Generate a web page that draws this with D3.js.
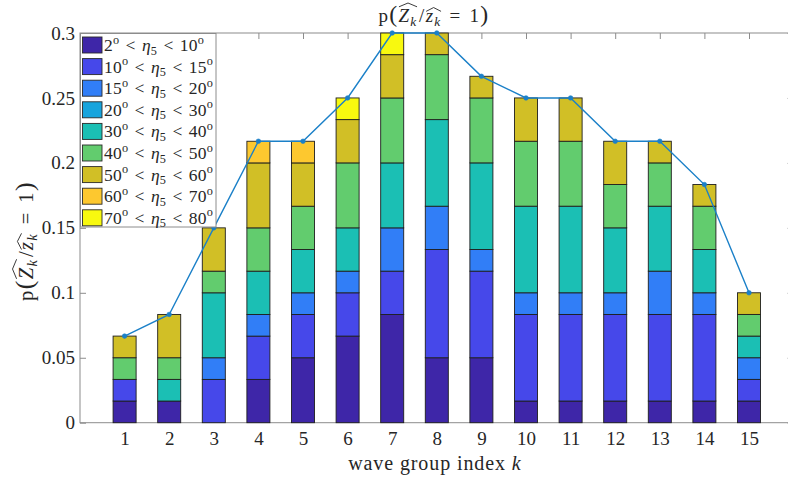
<!DOCTYPE html>
<html>
<head>
<meta charset="utf-8">
<script src="https://cdn.jsdelivr.net/npm/d3@7"></script>
<style>
  html, body { margin: 0; padding: 0; background: #fff; }
  svg { display: block; font-family: "Liberation Serif", "DejaVu Serif", serif; }
</style>
</head>
<body>
<svg id="chart" width="788" height="478"></svg>
<script>
// Wave group index k
const groups = [1, 2, 3, 4, 5, 6, 7, 8, 9, 10, 11, 12, 13, 14, 15];

// Angle bins for eta_5 (degrees)
const binLow  = [2, 10, 15, 20, 30, 40, 50, 60, 70];
const binHigh = [10, 15, 20, 30, 40, 50, 60, 70, 80];

// Share of each wave group in each angle bin
const eta2to10  = [0.01667, 0.01667, 0, 0.03333, 0.05, 0.06667, 0.08333, 0.05, 0.05, 0.01667, 0.01667, 0.01667, 0.01667, 0.01667, 0.01667];
const eta10to15 = [0.01667, 0, 0.03333, 0.03333, 0.03333, 0.03333, 0.03333, 0.08333, 0.06667, 0.06667, 0.06667, 0.06667, 0.06667, 0.06667, 0.01667];
const eta15to20 = [0, 0, 0.01667, 0.01667, 0.01667, 0.01667, 0.03333, 0.03333, 0.01667, 0.01667, 0.01667, 0.01667, 0.03333, 0.01667, 0.01667];
const eta20to30 = [0, 0, 0, 0, 0, 0, 0, 0, 0, 0, 0, 0, 0, 0, 0];
const eta30to40 = [0, 0.01667, 0.05, 0.03333, 0.03333, 0.03333, 0.05, 0.06667, 0.06667, 0.06667, 0.06667, 0.05, 0.05, 0.03333, 0.01667];
const eta40to50 = [0.01667, 0.01667, 0.01667, 0.03333, 0.03333, 0.05, 0.05, 0.05, 0.05, 0.05, 0.05, 0.03333, 0.03333, 0.03333, 0.01667];
const eta50to60 = [0.01667, 0.03333, 0.03333, 0.05, 0.03333, 0.03333, 0.03333, 0.01667, 0.01667, 0.03333, 0.03333, 0.03333, 0.01667, 0.01667, 0.01667];
const eta60to70 = [0, 0, 0, 0.01667, 0.01667, 0, 0, 0, 0, 0, 0, 0, 0, 0, 0];
const eta70to80 = [0, 0, 0, 0, 0, 0.01667, 0.01667, 0, 0, 0, 0, 0, 0, 0, 0];

// Total probability per wave group
const totalShare = [0.06667, 0.08333, 0.15, 0.21667, 0.21667, 0.25, 0.3, 0.3, 0.26667, 0.25, 0.25, 0.21667, 0.21667, 0.18333, 0.1];

// Axis ticks
const yTicks = [0, 0.05, 0.1, 0.15, 0.2, 0.25, 0.3];
const yTickLabels = ["0", "0.05", "0.1", "0.15", "0.2", "0.25", "0.3"];

const binSeries = [eta2to10, eta10to15, eta15to20, eta20to30, eta30to40, eta40to50, eta50to60, eta60to70, eta70to80];
const binColors = ["#3e26a8", "#4648ea", "#317ef7", "#17a4dd", "#1bbfb4", "#62cc6e", "#d1bf26", "#fdc82f", "#f8f90f"];

const ink = "#262626";
const axisInk = "#8c8c8c";
const lineBlue = "#1b80c8";
const tickSize = 19;

const svg = d3.select("#chart");

const x = d3.scaleLinear().domain([0, 16]).range([80, 793.6]);
const y = d3.scaleLinear().domain([0, 0.3]).range([422.7, 33]);

// ---------- Math-style text helper (italics, sub/superscripts, relation spacing, wide hats) ----------
function mathText(parent, pieces, opt) {
  const size = opt.size;
  const relGap = (opt.relGap || 0.3) * size;
  const g = parent.append("g")
    .attr("transform", `translate(${opt.x},${opt.y})` + (opt.rotate ? ` rotate(${opt.rotate})` : ""));
  const text = g.append("text").attr("font-size", size).attr("fill", ink)
    .attr("letter-spacing", opt.ls || 0);
  let shift = 0, idx = 0, pendingDx = 0;
  const spans = [];
  pieces.forEach(p => {
    const target = p.sup ? -0.42 * size : p.sub ? 0.2 * size : 0;
    const fs = (p.sup || p.sub) ? size * 0.7 : size * (p.scale || 1);
    const ts = text.append("tspan").text(p.t)
      .attr("dy", target - shift)
      .attr("font-size", fs)
      .attr("font-style", p.i ? "italic" : null);
    let dx = pendingDx + (p.rel ? relGap : 0) + (p.kern || 0) * size;
    if (dx) ts.attr("dx", dx);
    pendingDx = p.rel ? relGap : 0;
    shift = target;
    spans.push({ p, start: idx, end: idx + p.t.length - 1 });
    idx += p.t.length;
  });
  const bb = text.node().getBBox();
  const shiftX = opt.anchor === "middle" ? -(bb.x + bb.width / 2) : opt.anchor === "end" ? -(bb.x + bb.width) : 0;
  text.attr("x", shiftX);
  if (opt.hats) {
    const node = text.node();
    Object.keys(opt.hats).forEach(id => {
      const s = spans.filter(d => d.p.hat === id);
      const x0 = node.getStartPositionOfChar(s[0].start).x;
      const x1 = node.getEndPositionOfChar(s[s.length - 1].end).x;
      const base = -opt.hats[id] * size;
      const h = 0.2 * size;
      g.append("path")
        .attr("d", `M${x0 + 0.5},${base} L${(x0 + x1) / 2},${base - h} L${x1 - 0.5},${base}`)
        .attr("fill", "none").attr("stroke", ink).attr("stroke-width", 0.9);
    });
  }
  return g;
}

// ---------- Axes (drawn beneath the data) ----------
const axesLayer = svg.append("g");
axesLayer.append("rect")
  .attr("x", x(0)).attr("y", y(0.3))
  .attr("width", x(16) - x(0)).attr("height", y(0) - y(0.3))
  .attr("fill", "none").attr("stroke", axisInk).attr("stroke-width", 1);

const bottomAxis = d3.axisBottom(x).tickValues(groups).tickFormat(d3.format("d"))
  .tickSize(-6).tickPadding(8.8);
const topAxis = d3.axisTop(x).tickValues(groups).tickFormat("").tickSize(-6);
const leftAxis = d3.axisLeft(y).tickValues(yTicks).tickFormat((d, i) => yTickLabels[i])
  .tickSize(-6).tickPadding(5);
const rightAxis = d3.axisRight(y).tickValues(yTicks).tickFormat("").tickSize(-6);

axesLayer.append("g").attr("transform", `translate(0,${y(0)})`).call(bottomAxis);
axesLayer.append("g").attr("transform", `translate(0,${y(0.3)})`).call(topAxis);
axesLayer.append("g").attr("transform", `translate(${x(0)},0)`).call(leftAxis);
axesLayer.append("g").attr("transform", `translate(${x(16)},0)`).call(rightAxis);
axesLayer.selectAll(".domain").remove();
axesLayer.selectAll(".tick line").attr("stroke", axisInk);
axesLayer.selectAll(".tick text")
  .attr("fill", ink).attr("font-size", tickSize)
  .attr("font-family", "Liberation Serif, DejaVu Serif, serif");

// ---------- Stacked bars ----------
const rows = groups.map((k, i) => {
  const r = { k };
  binSeries.forEach((s, j) => { r["b" + j] = s[i]; });
  return r;
});
const keys = binSeries.map((s, j) => "b" + j);
const stacked = d3.stack().keys(keys)(rows);
const barHalf = 0.258;

svg.append("g").selectAll("g")
  .data(stacked)
  .join("g")
  .attr("fill", (d, j) => binColors[j])
  .selectAll("rect")
  .data(d => d.filter(v => v[1] - v[0] > 1e-9))
  .join("rect")
  .attr("x", d => x(d.data.k - barHalf))
  .attr("width", d => x(d.data.k + barHalf) - x(d.data.k - barHalf))
  .attr("y", d => y(d[1]))
  .attr("height", d => y(d[0]) - y(d[1]))
  .attr("stroke", "#1e1e1e").attr("stroke-width", 0.9);

// ---------- Total probability line ----------
const line = d3.line().x((d, i) => x(groups[i])).y(d => y(d));
svg.append("path").datum(totalShare)
  .attr("d", line).attr("fill", "none")
  .attr("stroke", lineBlue).attr("stroke-width", 1.4);
svg.append("g").selectAll("circle").data(totalShare).join("circle")
  .attr("cx", (d, i) => x(groups[i])).attr("cy", d => y(d)).attr("r", 2.3)
  .attr("fill", lineBlue).attr("stroke", lineBlue).attr("stroke-width", 0.6);

// ---------- Legend ----------
const legend = svg.append("g");
legend.append("rect").attr("x", 80.5).attr("y", 33.5).attr("width", 135.5).attr("height", 193.5)
  .attr("fill", "#fff").attr("stroke", axisInk).attr("stroke-width", 1);
binLow.forEach((lo, j) => {
  const cy = 45 + j * 21.6;
  legend.append("rect").attr("x", 82.5).attr("y", cy - 8).attr("width", 19.5).attr("height", 16)
    .attr("fill", binColors[j]).attr("stroke", "#2a2a2a").attr("stroke-width", 0.9);
  mathText(legend, [
    { t: String(lo) }, { t: "o", sup: 1 },
    { t: "<", rel: 1 }, { t: "η", i: 1 }, { t: "5", sub: 1 },
    { t: "<", rel: 1 }, { t: String(binHigh[j]) }, { t: "o", sup: 1 }
  ], { x: 104, y: cy + 6, size: 17.5, anchor: "start", relGap: 0.36, ls: 0.2 });
});

// ---------- Title and axis labels ----------
const probPieces = [
  { t: "p" }, { t: "(", scale: 1.25 },
  { t: "Z", i: 1, hat: "A" }, { t: "k", i: 1, sub: 1, hat: "A" },
  { t: "/", kern: 0.08 },
  { t: "z", i: 1, hat: "B" }, { t: "k", i: 1, sub: 1, hat: "B" },
  { t: "=", rel: 1 }, { t: "1" }, { t: ")", scale: 1.25 }
];
mathText(svg, probPieces, { x: 434, y: 22, size: 19, anchor: "middle", relGap: 0.42, ls: 1.3, hats: { A: 0.8, B: 0.56 } });
mathText(svg, probPieces, { x: 33, y: 241, size: 20.5, anchor: "middle", rotate: -90, relGap: 0.42, ls: 1.4, hats: { A: 0.8, B: 0.56 } });
mathText(svg, [{ t: "wave group index " }, { t: "k", i: 1 }], { x: 435, y: 470, size: 20, anchor: "middle", ls: 0.9 });
</script>
</body>
</html>
